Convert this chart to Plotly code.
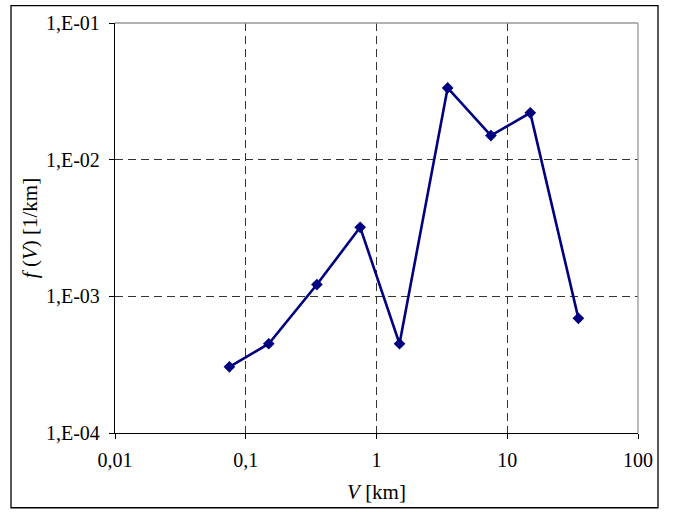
import plotly.graph_objects as go

# Size distribution data
volume_km = [0.075, 0.15, 0.35, 0.75, 1.5, 3.5, 7.5, 15, 35]
density = [3.05e-4, 4.5e-4, 1.22e-3, 3.2e-3, 4.5e-4, 3.35e-2, 1.5e-2, 2.2e-2, 6.9e-4]

x_tickvals = [0.01, 0.1, 1, 10, 100]
x_ticktext = ["0,01", "0,1", "1", "10", "100"]
y_tickvals = [1e-4, 1e-3, 1e-2, 1e-1]
y_ticktext = ["1,E-04", "1,E-03", "1,E-02", "1,E-01"]

FONT = "Liberation Serif"
NAVY = "#000080"

fig = go.Figure()
fig.add_trace(go.Scatter(
    x=volume_km, y=density, mode="lines+markers",
    line=dict(color=NAVY, width=2.6),
    marker=dict(symbol="diamond", size=9, color=NAVY),
    showlegend=False,
))

axis_common = dict(
    type="log",
    showline=True, linecolor="black", linewidth=1.3,
    ticks="outside", ticklen=5, tickcolor="black", tickwidth=1,
    showgrid=True, gridcolor="#333333", gridwidth=1, griddash="8px,5px",
    zeroline=False,
    tickfont=dict(family=FONT, size=20, color="black"),
)

fig.update_xaxes(
    **axis_common,
    range=[-2, 2], tickvals=x_tickvals, ticktext=x_ticktext,
    title=dict(text="<i>V</i> [km]", font=dict(family=FONT, size=21, color="black"), standoff=14),
    ticklabelstandoff=4,
)
fig.update_yaxes(
    **axis_common,
    range=[-4, -1], tickvals=y_tickvals, ticktext=y_ticktext,
    title=dict(text="<i>f</i> (<i>V</i>) [1/km]", font=dict(family=FONT, size=21, color="black"), standoff=2),
    ticklabelstandoff=5,
)

# gray frame on the top and right edges of the plot area
fig.add_shape(type="line", xref="paper", yref="paper", x0=0, x1=1, y0=1, y1=1,
              line=dict(color="#999999", width=1.3))
fig.add_shape(type="line", xref="paper", yref="paper", x0=1, x1=1, y0=0, y1=1,
              line=dict(color="#999999", width=1.3))

# outer chart border
L, R, T, B = 115, 40, 19, 79
W, H = 678, 512
pw, ph = W - L - R, H - T - B
fig.add_shape(type="rect", xref="paper", yref="paper",
              x0=(11 - L) / pw, x1=(658 - L) / pw,
              y0=((H - B) - 508.5) / ph, y1=((H - B) - 1.5) / ph,
              line=dict(color="black", width=1.3), layer="below")

fig.update_layout(
    width=W, height=H,
    margin=dict(l=L, r=R, t=T, b=B),
    paper_bgcolor="white", plot_bgcolor="white",
    font=dict(family=FONT, color="black"),
)

fig.write_html("out.html")
